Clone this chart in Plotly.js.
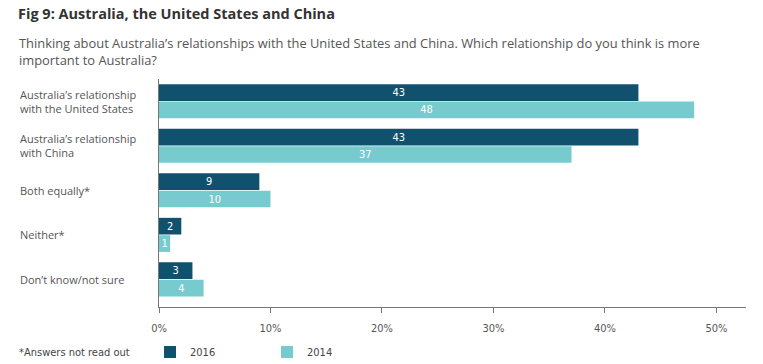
<!DOCTYPE html>
<html>
<head>
<meta charset="utf-8">
<script src="https://cdn.plot.ly/plotly-3.0.1.min.js"></script>
<style>html,body{margin:0;padding:0;background:#fff;}#chart{width:763px;height:364px;}</style>
</head>
<body>
<div id="chart"></div>
<script>
var categories = [
  "Australia\u2019s relationship<br>with the United States",
  "Australia\u2019s relationship<br>with China",
  "Both equally*",
  "Neither*",
  "Don\u2019t know/not sure"
];
var values2016 = [43, 43, 9, 2, 3];
var values2014 = [48, 37, 10, 1, 4];
var seriesNames = ["2016", "2014"];
var tickValues = [0, 10, 20, 30, 40, 50];
var tickLabels = ["0%", "10%", "20%", "30%", "40%", "50%"];

var W = 763, H = 364;
var margin = {l: 159, r: 17, t: 79, b: 57, autoexpand: false};
var plotW = W - margin.l - margin.r;
var plotH = H - margin.t - margin.b;
function px2paperX(px) { return (px - margin.l) / plotW; }
function px2paperY(py) { return (H - margin.b - py) / plotH; }

var labelFont = "'DejaVu Sans Condensed', 'Liberation Sans Narrow', 'Roboto', sans-serif";
var textFont = "'Open Sans', 'Noto Sans', sans-serif";

var traces = [
  {
    type: "bar", orientation: "h", name: seriesNames[0],
    y: categories, x: values2016,
    marker: {color: "#10526e"},
    text: values2016.map(String), textposition: "inside", insidetextanchor: "middle",
    textangle: 0, constraintext: "none",
    textfont: {color: "#ffffff", size: 11, family: labelFont},
    hoverinfo: "skip"
  },
  {
    type: "bar", orientation: "h", name: seriesNames[1],
    y: categories, x: values2014,
    marker: {color: "#77cbcf"},
    text: values2014.map(String), textposition: "inside", insidetextanchor: "middle",
    textangle: 0, constraintext: "none",
    textfont: {color: "#ffffff", size: 11, family: labelFont},
    hoverinfo: "skip"
  }
];

var annotations = categories.map(function (c) {
  return {
    xref: "paper", yref: "y", x: px2paperX(18), y: c,
    xanchor: "left", yanchor: "middle", align: "left",
    text: c, showarrow: false,
    font: {family: textFont, size: 11, color: "#555555"}
  };
});
annotations.push({
  xref: "paper", yref: "paper", x: px2paperX(17), y: px2paperY(51),
  xanchor: "left", yanchor: "middle", align: "left", showarrow: false,
  text: "Thinking about Australia\u2019s relationships with the United States and China. Which relationship do you think is more<br>important to Australia?",
  font: {family: textFont, size: 12.9, color: "#555555"}
});
annotations.push({
  xref: "paper", yref: "paper", x: px2paperX(17), y: px2paperY(352),
  xanchor: "left", yanchor: "middle", align: "left", showarrow: false,
  text: "*Answers not read out",
  font: {family: labelFont, size: 11, color: "#444444"}
});

var layout = {
  width: W, height: H,
  margin: margin,
  paper_bgcolor: "#ffffff", plot_bgcolor: "#ffffff",
  title: {
    text: "<b>Fig 9: Australia, the United States and China</b>",
    x: 18 / W, xanchor: "left", y: 1 - 14 / H, yanchor: "middle",
    font: {family: textFont, size: 14.5, color: "#333333"}
  },
  barmode: "group", bargap: 0.22, bargroupgap: 0.04,
  xaxis: {
    range: [0, 52.65], tickvals: tickValues, ticktext: tickLabels,
    showgrid: false, zeroline: false,
    showline: true, linecolor: "#777777", linewidth: 1,
    ticks: "outside", ticklen: 5, tickcolor: "#777777",
    ticklabelstandoff: 6,
    tickfont: {family: labelFont, size: 11, color: "#555555"},
    fixedrange: true
  },
  yaxis: {
    range: [4.62, -0.5], showticklabels: false,
    showgrid: false, zeroline: false,
    showline: true, linecolor: "#777777", linewidth: 1,
    ticks: "", fixedrange: true
  },
  showlegend: true,
  legend: {
    orientation: "h", x: px2paperX(150), xanchor: "left",
    y: px2paperY(352), yanchor: "middle",
    font: {family: labelFont, size: 11, color: "#444444"},
    entrywidth: 72, traceorder: "normal"
  },
  annotations: annotations
};

Plotly.newPlot("chart", traces, layout, {displayModeBar: false, staticPlot: true});
</script>
</body>
</html>
